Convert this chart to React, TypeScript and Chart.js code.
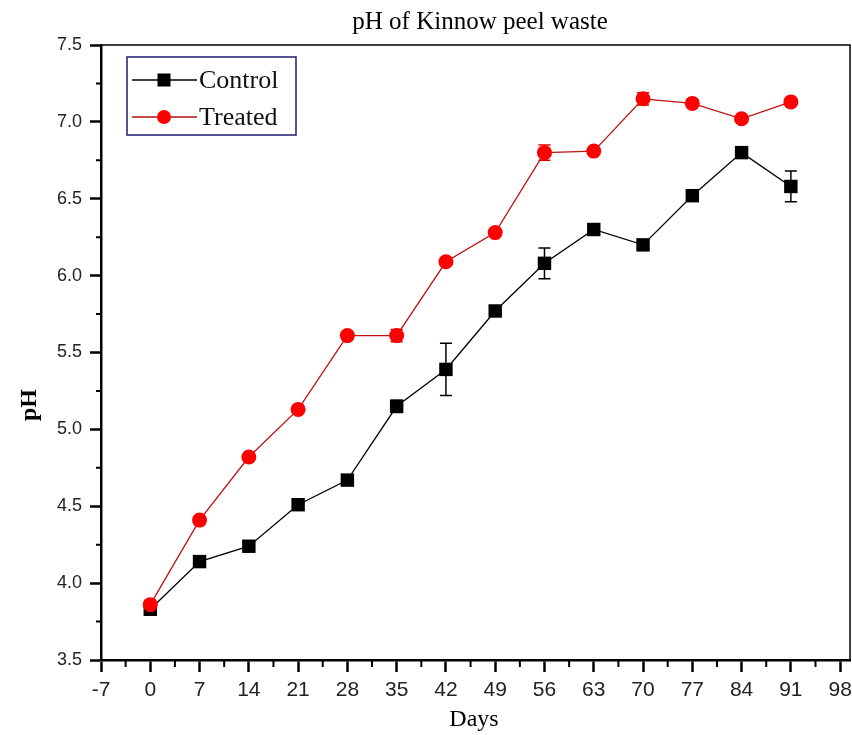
import React, { useEffect, useRef } from "react";
import { Chart, registerables } from "chart.js";

Chart.register(...registerables);

const days = [0, 7, 14, 21, 28, 35, 42, 49, 56, 63, 70, 77, 84, 91];
const controlPH = [3.83, 4.14, 4.24, 4.51, 4.67, 5.15, 5.39, 5.77, 6.08, 6.3, 6.2, 6.52, 6.8, 6.58];
const controlErr = [0.02, 0.02, 0.02, 0.02, 0.02, 0.04, 0.17, 0.02, 0.1, 0.02, 0.02, 0.02, 0.02, 0.1];
const treatedPH = [3.86, 4.41, 4.82, 5.13, 5.61, 5.61, 6.09, 6.28, 6.8, 6.81, 7.15, 7.12, 7.02, 7.13];
const treatedErr = [0.02, 0.02, 0.02, 0.02, 0.02, 0.04, 0.02, 0.02, 0.05, 0.02, 0.04, 0.02, 0.02, 0.02];
const xTicks = [-7, 0, 7, 14, 21, 28, 35, 42, 49, 56, 63, 70, 77, 84, 91, 98];
const yTicks = [3.5, 4.0, 4.5, 5.0, 5.5, 6.0, 6.5, 7.0, 7.5];
const xMinor = [-3.5, 3.5, 10.5, 17.5, 24.5, 31.5, 38.5, 45.5, 52.5, 59.5, 66.5, 73.5, 80.5, 87.5, 94.5];
const yMinor = [3.75, 4.25, 4.75, 5.25, 5.75, 6.25, 6.75, 7.25];
const titleText = "pH of Kinnow peel waste";
const xTitle = "Days";
const yTitle = "pH";
const seriesNames = ["Control", "Treated"];

const SERIF = "'Liberation Serif', 'Times New Roman', serif";
const SANS = "'Liberation Sans Narrow', 'Liberation Sans', Arial, sans-serif";

const customPlugin = {
  id: "custom",
  beforeDatasetsDraw(chart: any) {
    const ctx = chart.ctx;
    const xs = chart.scales.x;
    const ys = chart.scales.y;
    const groups = [
      { v: controlPH, e: controlErr, c: "#000000" },
      { v: treatedPH, e: treatedErr, c: "#e00000" },
    ];
    ctx.save();
    ctx.lineWidth = 1.5;
    groups.forEach((g) => {
      ctx.strokeStyle = g.c;
      days.forEach((d, i) => {
        const x = xs.getPixelForValue(d);
        const y1 = ys.getPixelForValue(g.v[i] + g.e[i]);
        const y2 = ys.getPixelForValue(g.v[i] - g.e[i]);
        ctx.beginPath();
        ctx.moveTo(x, y1);
        ctx.lineTo(x, y2);
        ctx.moveTo(x - 6, y1);
        ctx.lineTo(x + 6, y1);
        ctx.moveTo(x - 6, y2);
        ctx.lineTo(x + 6, y2);
        ctx.stroke();
      });
    });
    ctx.restore();
  },
  afterDraw(chart: any) {
    const ctx = chart.ctx;
    const a = chart.chartArea;
    const xs = chart.scales.x;
    const ys = chart.scales.y;
    ctx.save();
    ctx.strokeStyle = "#000";
    ctx.lineWidth = 1.5;
    ctx.beginPath();
    ctx.moveTo(a.left, a.top);
    ctx.lineTo(a.right, a.top);
    ctx.lineTo(a.right, a.bottom);
    ctx.stroke();
    ctx.lineWidth = 2;
    ctx.beginPath();
    xMinor.forEach((v) => {
      const x = xs.getPixelForValue(v);
      ctx.moveTo(x, a.bottom);
      ctx.lineTo(x, a.bottom + 7);
    });
    yMinor.forEach((v) => {
      const y = ys.getPixelForValue(v);
      ctx.moveTo(a.left, y);
      ctx.lineTo(a.left - 5, y);
    });
    ctx.stroke();
    ctx.fillStyle = "#000";
    ctx.font = `25px ${SERIF}`;
    ctx.textAlign = "center";
    ctx.textBaseline = "middle";
    ctx.fillText(titleText, 480, 22);
    ctx.font = `24px ${SERIF}`;
    ctx.fillText(xTitle, 474, 720);
    ctx.save();
    ctx.translate(30, 405);
    ctx.rotate(-Math.PI / 2);
    ctx.font = `bold 24px ${SERIF}`;
    ctx.fillText(yTitle, 0, 0);
    ctx.restore();
    const lx = 127, ly = 57, lw = 169, lh = 78;
    ctx.fillStyle = "#fff";
    ctx.fillRect(lx, ly, lw, lh);
    ctx.strokeStyle = "#1c1c6a";
    ctx.lineWidth = 1.5;
    ctx.strokeRect(lx, ly, lw, lh);
    const rows = [
      { y: 80, name: seriesNames[0], sq: true },
      { y: 117, name: seriesNames[1], sq: false },
    ];
    rows.forEach((r) => {
      ctx.strokeStyle = r.sq ? "#000" : "#b01010";
      ctx.lineWidth = 1.3;
      ctx.beginPath();
      ctx.moveTo(132, r.y);
      ctx.lineTo(197, r.y);
      ctx.stroke();
      ctx.fillStyle = r.sq ? "#000" : "#ff0000";
      if (r.sq) {
        ctx.fillRect(164 - 6.5, r.y - 6.5, 13, 13);
      } else {
        ctx.beginPath();
        ctx.arc(164, r.y, 7, 0, Math.PI * 2);
        ctx.fill();
      }
      ctx.fillStyle = "#111";
      ctx.font = `26px ${SERIF}`;
      ctx.textAlign = "left";
      ctx.textBaseline = "middle";
      ctx.fillText(r.name, 199, r.y + 1);
    });
    ctx.restore();
  },
};

export default function App() {
  const ref = useRef<HTMLCanvasElement>(null);
  useEffect(() => {
    if (!ref.current) return;
    const chart = new Chart(ref.current, {
      type: "line",
      data: {
        datasets: [
          {
            label: seriesNames[0],
            data: days.map((d, i) => ({ x: d, y: controlPH[i] })),
            borderColor: "#000000",
            backgroundColor: "#000000",
            borderWidth: 1.3,
            pointStyle: "rect",
            pointRadius: 9.5,
            pointBorderWidth: 0,
            tension: 0,
            order: 1,
          },
          {
            label: seriesNames[1],
            data: days.map((d, i) => ({ x: d, y: treatedPH[i] })),
            borderColor: "#c01010",
            backgroundColor: "#ff0000",
            borderWidth: 1.3,
            pointStyle: "circle",
            pointRadius: 7.5,
            pointBorderWidth: 0,
            tension: 0,
            order: 0,
          },
        ],
      },
      options: {
        animation: false,
        responsive: false,
        maintainAspectRatio: false,
        layout: { autoPadding: false, padding: { left: 0, right: 2, top: 45, bottom: 0 } },
        plugins: {
          legend: { display: false },
          title: { display: false },
          tooltip: { enabled: false },
        },
        scales: {
          x: {
            type: "linear",
            min: -7,
            max: 99.4,
            afterBuildTicks: (s: any) => {
              s.ticks = xTicks.map((v) => ({ value: v }));
            },
            afterFit: (s: any) => {
              s.height = 75;
              s.paddingRight = 0;
              s.paddingLeft = 0;
            },
            ticks: {
              autoSkip: false,
              maxRotation: 0,
              padding: 6,
              color: "#222",
              font: { family: SANS, size: 21 },
              callback: (v: any) => String(v),
            },
            grid: {
              drawOnChartArea: false,
              drawTicks: true,
              tickLength: 12,
              tickWidth: 2.5,
              tickColor: "#000",
            },
            border: { display: true, color: "#000", width: 2.5 },
          },
          y: {
            type: "linear",
            min: 3.5,
            max: 7.5,
            afterBuildTicks: (s: any) => {
              s.ticks = yTicks.map((v) => ({ value: v }));
            },
            afterFit: (s: any) => {
              s.width = 101;
              s.paddingTop = 0;
              s.paddingBottom = 0;
            },
            ticks: {
              autoSkip: false,
              padding: 8,
              color: "#222",
              font: { family: SANS, size: 18 },
              callback: (v: any) => Number(v).toFixed(1),
            },
            grid: {
              drawOnChartArea: false,
              drawTicks: true,
              tickLength: 11,
              tickWidth: 2.5,
              tickColor: "#000",
            },
            border: { display: true, color: "#000", width: 2.5 },
          },
        },
      },
      plugins: [customPlugin],
    });
    return () => chart.destroy();
  }, []);
  return (
    <div style={{ position: "absolute", left: 0, top: 0, width: 852, height: 735, background: "#fff" }}>
      <canvas ref={ref} width={852} height={735} style={{ width: 852, height: 735 }} />
    </div>
  );
}
